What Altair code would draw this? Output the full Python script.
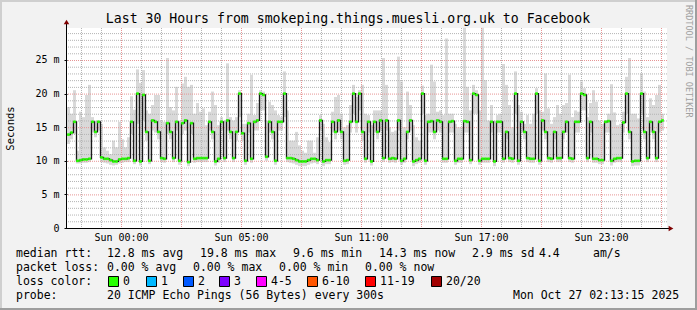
import altair as alt
import pandas as pd

MONO = "DejaVu Sans Mono"

# ---------------- data ----------------
# median RTT (ms), one value per ~9 minutes, starting Sat 21:18 BST
median = [
    13.9, 14.2, 15.8, 10.0, 10.1, 10.2, 10.2, 10.3, 15.8, 14.3, 15.8, 10.5, 10.3, 10.3, 10.1, 9.9,
    9.9, 10.2, 10.3, 10.3, 10.4, 15.8, 10.0, 20.0, 9.9, 19.8, 14.3, 10.0, 16.0, 15.8, 14.3, 10.4, 10.3,
    15.6, 14.3, 10.4, 15.8, 10.0, 15.6, 16.0, 9.8, 15.6, 10.3, 10.4, 10.4, 10.4, 10.4, 15.8, 14.3,
    9.9, 10.3, 15.8, 10.4, 16.0, 14.3, 10.4, 14.3, 20.0, 14.1, 10.0, 15.6, 10.3, 15.8, 16.0, 20.0, 19.8,
    10.6, 15.8, 14.3, 10.0, 15.8, 15.8, 20.0, 10.4, 10.4, 10.3, 10.1, 9.9, 9.9, 9.9, 10.1, 10.3,
    10.3, 10.1, 16.0, 9.9, 10.1, 10.1, 15.8, 14.3, 16.0, 14.3, 10.0, 10.1, 15.8, 20.0, 15.8, 20.0,
    14.3, 10.3, 15.8, 9.9, 15.8, 14.3, 16.0, 10.4, 16.0, 10.3, 10.4, 10.3, 16.0, 10.0, 10.3, 14.3,
    16.0, 9.9, 10.1, 10.3, 20.0, 10.0, 15.8, 15.9, 14.3, 16.0, 15.8, 10.3, 10.3, 15.8, 15.9, 10.0, 10.3,
    10.3, 15.9, 15.8, 10.1, 20.0, 19.8, 10.0, 10.3, 10.3, 10.3, 15.8, 9.9, 15.8, 15.8, 10.3, 14.3,
    10.4, 10.3, 20.0, 10.0, 15.8, 14.3, 10.4, 10.3, 10.3, 20.0, 10.0, 16.0, 14.3, 10.4, 10.3, 14.3, 10.4,
    10.4, 14.3, 15.8, 10.4, 10.3, 15.8, 15.8, 20.0, 19.8, 10.4, 15.8, 10.3, 10.3, 10.1, 10.1, 15.8,
    15.9, 10.0, 10.3, 10.4, 10.4, 15.7, 20.0, 14.3, 9.9, 10.0, 10.0, 20.0, 14.3, 10.4, 15.8, 14.3,
    10.4, 15.8, 16.0,
]
# top of the smoke (slowest ping, ms)
smoke_hi = [
    18.0, 17.0, 20.5, 11.5, 17.3, 16.5, 19.8, 21.3, 16.5, 16.0, 16.0, 15.5, 12.0, 11.5, 11.0, 13.0,
    12.0, 15.8, 13.2, 12.0, 13.5, 19.6, 17.6, 23.6, 21.6, 23.5, 17.5, 17.0, 18.3, 19.8, 19.8, 16.0, 15.8,
    25.3, 18.0, 17.5, 21.0, 16.0, 21.5, 22.5, 21.0, 21.3, 17.0, 18.6, 17.3, 17.8, 15.3, 17.3, 20.3,
    18.3, 15.3, 16.5, 16.0, 24.5, 16.5, 16.0, 16.5, 20.5, 15.5, 15.5, 17.0, 22.8, 16.8, 18.6, 20.5, 20.3,
    16.0, 18.8, 18.3, 17.5, 16.8, 16.5, 23.3, 17.5, 13.0, 13.0, 14.3, 12.3, 11.5, 11.2, 13.0, 13.0,
    11.2, 13.5, 16.8, 15.5, 13.5, 12.8, 17.3, 19.5, 19.8, 17.0, 15.0, 15.3, 18.3, 21.3, 19.5, 20.5,
    21.3, 17.0, 16.8, 15.3, 17.5, 17.5, 17.5, 25.3, 21.3, 15.0, 14.3, 14.5, 25.5, 21.8, 15.0, 20.3,
    18.3, 15.3, 13.5, 13.0, 21.2, 16.8, 17.0, 24.3, 21.8, 17.3, 17.5, 16.8, 28.2, 17.0, 17.0, 15.5, 15.0,
    15.0, 29.8, 21.0, 17.5, 21.3, 20.5, 17.5, 29.8, 22.0, 16.0, 18.3, 16.0, 16.8, 17.0, 24.4, 21.3,
    18.3, 15.0, 23.3, 18.3, 17.3, 15.5, 16.8, 15.5, 17.0, 20.8, 17.5, 17.3, 23.0, 17.8, 15.5, 16.5, 18.3,
    17.0, 18.3, 18.6, 22.8, 16.5, 17.5, 17.3, 21.8, 20.8, 16.5, 18.6, 20.5, 18.8, 16.0, 15.5, 16.0,
    17.0, 21.4, 17.2, 15.3, 15.5, 17.3, 22.5, 25.3, 17.0, 17.0, 16.3, 23.0, 20.3, 16.5, 19.3, 18.3,
    19.8, 21.3, 17.0,
]
# bottom of the smoke (fastest ping, ms)
smoke_lo = [
    12.5, 13.2, 14.0, 9.6, 9.6, 9.7, 9.7, 9.8, 14.2, 13.5, 14.5, 9.8, 9.7, 9.6, 9.4, 9.3,
    9.4, 9.6, 9.7, 9.8, 9.8, 14.0, 9.5, 15.5, 9.3, 16.0, 13.0, 9.5, 14.5, 14.2, 13.2, 9.8, 9.7,
    14.0, 13.2, 9.8, 14.5, 9.4, 14.0, 14.5, 9.2, 14.0, 9.7, 9.8, 9.8, 9.8, 9.8, 14.5, 13.2,
    9.3, 9.7, 14.5, 9.8, 14.5, 13.2, 9.8, 13.0, 16.5, 13.0, 9.4, 14.2, 9.7, 14.5, 14.5, 17.5, 17.5,
    10.0, 14.2, 13.2, 9.4, 14.5, 14.5, 16.5, 9.8, 9.7, 9.6, 9.4, 9.2, 9.2, 9.2, 9.4, 9.6,
    9.7, 9.5, 14.5, 9.2, 9.5, 9.5, 14.2, 13.2, 14.5, 13.2, 9.4, 9.5, 14.2, 17.0, 14.2, 17.5,
    13.0, 9.7, 14.2, 9.3, 14.2, 13.2, 14.5, 9.8, 14.5, 9.7, 9.8, 9.7, 14.5, 9.4, 9.7, 13.2,
    14.5, 9.2, 9.5, 9.7, 17.0, 9.4, 14.2, 14.2, 13.2, 14.5, 14.2, 9.7, 9.7, 14.2, 14.2, 9.4, 9.7,
    9.7, 14.2, 14.2, 9.5, 17.0, 17.0, 9.4, 9.7, 9.7, 9.7, 14.2, 9.2, 14.2, 14.2, 9.7, 13.2,
    9.8, 9.7, 17.0, 9.4, 14.2, 13.2, 9.8, 9.7, 9.7, 17.0, 9.4, 14.5, 13.2, 9.8, 9.7, 13.2, 9.8,
    9.8, 13.2, 14.2, 9.8, 9.7, 14.2, 14.2, 17.5, 17.5, 9.8, 14.2, 9.7, 9.7, 9.5, 9.5, 14.2,
    14.2, 9.3, 9.7, 9.8, 9.8, 14.2, 17.0, 13.2, 9.2, 9.3, 9.3, 17.0, 13.2, 9.8, 14.2, 13.2,
    9.8, 14.2, 14.5,
]

START_H = -2.7        # hours relative to Sun 00:00 (real elapsed time)
STEP_H = 0.15         # sampling step of the arrays above
X_DOMAIN = [-2.7, 27.3]
Y_DOMAIN = [0, 29.76]

x_tick_hours = [0, 6, 12, 18, 24]
x_tick_labels = ["Sun 00:00", "Sun 05:00", "Sun 11:00", "Sun 17:00", "Sun 23:00"]
y_tick_values = [0, 5, 10, 15, 20, 25]

title_text = "Last 30 Hours from smokeping.things.muesli.org.uk to Facebook"
row1 = ["median rtt:", "12.8 ms avg", "19.8 ms max", "9.6 ms min", "14.3 ms now", "2.9 ms sd", "4.4", "am/s"]
row2 = ["packet loss:", "0.00 % avg", "0.00 % max", "0.00 % min", "0.00 % now"]
row3_head = "loss color:"
loss_labels = ["0", "1", "2", "3", "4-5", "6-10", "11-19", "20/20"]
loss_colors = ["#26ff00", "#00b8ff", "#0059ff", "#7e00ff", "#ff00ff", "#ff5500", "#ff0000", "#a10000"]
row4 = ["probe:", "20 ICMP Echo Pings (56 Bytes) every 300s", "Mon Oct 27 02:13:15 2025"]

# ---------------- layout (pixels) ----------------
PL, PT, PW, PH = 67, 28, 600, 200
row1_x = [16, 107, 200, 293, 379, 472, 539, 593]
row2_x = [16, 107, 193, 279, 365]
box_x = [108, 146, 183, 219, 256, 307, 365, 431]
row4_x = [16, 107, 513]
row_y = [254, 268, 282, 296]

hours = [round(START_H + STEP_H * i, 3) for i in range(len(median))]
df = pd.DataFrame({"h": hours, "med": median, "lo": smoke_lo, "hi": smoke_hi})

xs = alt.Scale(domain=X_DOMAIN, nice=False, zero=False)
ys = alt.Scale(domain=Y_DOMAIN, nice=False, zero=False)

label_expr = ("[" + ",".join("'" + s + "'" for s in x_tick_labels) + "][indexof("
              + str(x_tick_hours) + ", datum.value)]")

X_AXIS = alt.Axis(
    values=x_tick_hours, labelExpr=label_expr, grid=False, domain=False,
    ticks=False, tickSize=0, labelPadding=4, labelFont=MONO, labelFontSize=10,
    labelColor="#000000", title=None, labelBaseline="top", labelFlush=False)
Y_AXIS = alt.Axis(
    values=y_tick_values, labelExpr="datum.value == 0 ? '0' : datum.value + ' m'",
    grid=False, domain=False, tickSize=3, tickColor="#000000", labelPadding=5,
    labelFont=MONO, labelFontSize=10, labelColor="#000000",
    title="Seconds", titleFont=MONO, titleFontSize=10.5, titleFontWeight="normal",
    titleColor="#000000", titleAngle=270, titleX=-57, titleY=100,
    titleAlign="center", titleBaseline="middle")


def X(field):
    return alt.X(field, scale=xs, axis=X_AXIS)


def Y(field):
    return alt.Y(field, scale=ys, axis=Y_AXIS)


minor_x = [h for h in range(-2, 28) if h % 3 != 0]
major_x = [h for h in range(-2, 28) if h % 3 == 0]
minor_y = [v for v in range(1, 30) if v % 5 != 0]
major_y = [v for v in range(5, 30, 5)]

GRID = "#b4b4b4"
MGRID = "#e69494"

layers = []

# smoke
layers.append(
    alt.Chart(df).mark_rule(strokeWidth=3, color="#d9d9d9", xOffset=1.5).encode(
        x=X("h:Q"), y=Y("lo:Q"), y2="hi:Q")
)


def vgrid(vals, color):
    return alt.Chart(pd.DataFrame({"v": vals})).mark_rule(
        color=color, strokeDash=[1, 1], strokeWidth=1, xOffset=0.5
    ).encode(x=X("v:Q"))


def hgrid(vals, color):
    return alt.Chart(pd.DataFrame({"v": vals})).mark_rule(
        color=color, strokeDash=[1, 1], strokeWidth=1, yOffset=0.5
    ).encode(y=Y("v:Q"))


layers += [vgrid(minor_x, GRID), hgrid(minor_y, GRID), vgrid(major_x, MGRID), hgrid(major_y, MGRID)]

# median line
layers.append(
    alt.Chart(df).mark_line(interpolate="step-after", strokeWidth=1.3, color="#1a1a1a", xOffset=0.5).encode(
        x=X("h:Q"), y=Y("med:Q"))
)

# loss-coloured median points
layers.append(
    alt.Chart(df).mark_square(size=7, color=loss_colors[0], opacity=1, xOffset=1.5).encode(
        x=X("h:Q"), y=Y("med:Q"))
)

# axis lines and arrows
one = pd.DataFrame({"a": [0]})
layers.append(alt.Chart(one).mark_rule(color="#000000", strokeWidth=1).encode(
    x=alt.value(-0.5), y=alt.value(-6), y2=alt.value(PH)))
layers.append(alt.Chart(one).mark_rule(color="#000000", strokeWidth=1).encode(
    x=alt.value(0), x2=alt.value(603), y=alt.value(PH + 0.5)))
layers.append(alt.Chart(one).mark_point(shape="triangle-up", filled=True, size=30, color="#7f0000", opacity=1).encode(
    x=alt.value(-0.5), y=alt.value(-6)))
layers.append(alt.Chart(one).mark_point(shape="triangle-right", filled=True, size=30, color="#7f0000", opacity=1).encode(
    x=alt.value(604), y=alt.value(PH + 0.5)))


def frame(x, x2, y, y2, color):
    return alt.Chart(one).mark_rect(color=color).encode(
        x=alt.value(x - PL), x2=alt.value(x2 - PL), y=alt.value(y - PT), y2=alt.value(y2 - PT))


layers += [
    frame(0, 697, 0, 2, "#cfcfcf"), frame(0, 2, 0, 310, "#cfcfcf"),
    frame(0, 697, 308, 310, "#9e9e9e"), frame(695, 697, 0, 310, "#9e9e9e"),
]


def txt(s, x, y, size=11.5, color="#000000", angle=0, align="left"):
    return alt.Chart(pd.DataFrame({"t": [s]})).mark_text(
        align=align, baseline="middle", font=MONO, fontSize=size, color=color, angle=angle
    ).encode(x=alt.value(x - PL), y=alt.value(y - PT), text="t:N")


layers.append(txt(title_text, 348, 19, size=13.2, align="center"))
layers.append(txt("RRDTOOL / TOBI OETIKER", 689, 5, size=8.5, color="#a0a0a0", angle=90))

for s, x in zip(row1, row1_x):
    layers.append(txt(s, x, row_y[0]))
for s, x in zip(row2, row2_x):
    layers.append(txt(s, x, row_y[1]))
layers.append(txt(row3_head, 16, row_y[2]))
for lab, col, x in zip(loss_labels, loss_colors, box_x):
    layers.append(alt.Chart(one).mark_rect(color=col, stroke="#000000", strokeWidth=1).encode(
        x=alt.value(x + 0.5 - PL), x2=alt.value(x + 10.5 - PL),
        y=alt.value(row_y[2] - 5.5 - PT), y2=alt.value(row_y[2] + 4.5 - PT)))
    layers.append(txt(lab, x + 15, row_y[2]))
for s, x in zip(row4, row4_x):
    layers.append(txt(s, x, row_y[3]))

chart = alt.layer(*layers).properties(
    width=PW, height=PH,
    autosize=alt.AutoSizeParams(type="none"),
    padding={"left": PL, "top": PT, "right": 697 - PL - PW, "bottom": 310 - PT - PH},
    background="#f2f2f2",
).configure_view(fill="#ffffff", stroke=None)

chart.save("out.html", embed_options={"renderer": "svg", "actions": False})
